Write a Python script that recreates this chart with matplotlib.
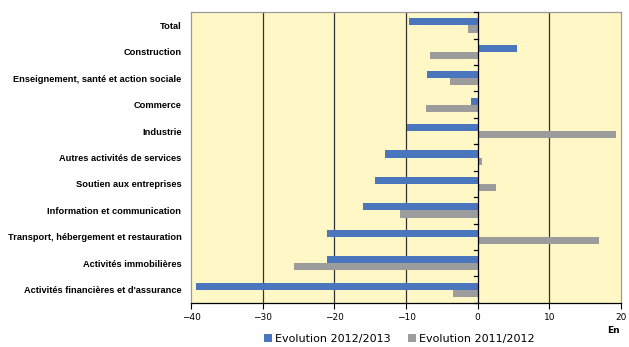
import matplotlib.pyplot as plt
import numpy as np

secteurs = ['Total', 'Construction', 'Enseignement, santé et action sociale',
            'Commerce', 'Industrie', 'Autres activités de services',
            'Soutien aux entreprises', 'Information et communication',
            'Transport, hébergement et restauration', 'Activités immobilières',
            "Activités financières et d'assurance"]
evol_2012_2013 = [-9.6, 5.5, -7.0, -0.9, -9.8, -12.9, -14.3, -16.0, -21.1, -21.1, -39.3]
evol_2011_2012 = [-1.4, -6.7, -3.8, -7.2, 19.3, 0.6, 2.5, -10.9, 17.0, -25.7, -3.5]

bleu = '#4a76be'
gris = '#9c9c9c'

fig = plt.figure(figsize=(6.29, 3.47), dpi=100)
ax = fig.add_axes([0.304, 0.127, 0.683, 0.838])
ax.set_facecolor('#fff8c6')

y = np.arange(len(secteurs))
h = 0.27
ax.barh(y - h / 2, evol_2012_2013, height=h, color=bleu, label='Evolution 2012/2013', zorder=3)
ax.barh(y + h / 2, evol_2011_2012, height=h, color=gris, label='Evolution 2011/2012', zorder=3)

ax.set_xlim(-40, 20)
ax.set_ylim(len(secteurs) - 0.5, -0.5)
ax.set_xticks(range(-40, 21, 10))
ax.set_xticklabels(['\u221240', '\u221230', '\u221220', '\u221210', '0', '10', '20'], fontsize=6.5)
ax.set_yticks(y)
ax.set_yticklabels(secteurs, fontsize=6.7, fontweight='bold', family='Liberation Sans')
ax.tick_params(axis='y', length=0, pad=7)
ax.tick_params(axis='x', length=4, width=0.8, pad=3)

for v in [-30, -20, -10, 10]:
    ax.axvline(v, color='#333333', lw=0.9, zorder=1)
ax.axvline(0, color='black', lw=0.9, zorder=4)
# petites graduations sur l'axe des catégories
for b in np.arange(-0.5, len(secteurs), 1.0):
    ax.plot([-0.5, 0], [b, b], color='black', lw=0.9, zorder=4, clip_on=False)

for s in ['left', 'right', 'top']:
    ax.spines[s].set_color('#9a9a9a')
    ax.spines[s].set_linewidth(0.9)
ax.spines['bottom'].set_color('black')
ax.spines['bottom'].set_linewidth(0.9)

fig.text(0.976, 0.04, 'En', fontsize=6.5, fontweight='bold', ha='center')
fig.legend(loc='lower center', bbox_to_anchor=(0.635, -0.02), ncol=2, frameon=False,
           fontsize=8, handlelength=0.7, handleheight=0.7, handletextpad=0.3, columnspacing=1.5)

plt.savefig('out.png', dpi=100)
